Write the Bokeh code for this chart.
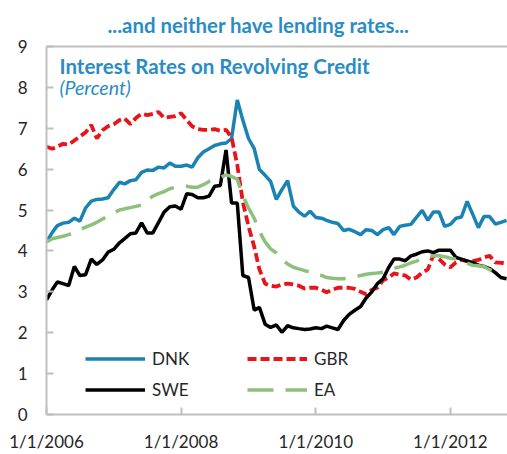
import pandas as pd
from bokeh.plotting import figure
from bokeh.models import (Legend, LegendItem, Label, FixedTicker, DatetimeTickFormatter,
                          LinearAxis, Range1d, Title)
from bokeh.embed import file_html
from bokeh.resources import INLINE

# ---- data (monthly, starting Jan 2006) ----
start_month = "2006-01-01"
dnk = [4.22, 4.45, 4.62, 4.68, 4.70, 4.80, 4.73, 5.05, 5.22, 5.26,
       5.27, 5.30, 5.50, 5.68, 5.64, 5.72, 5.74, 5.92, 5.98, 5.97,
       6.05, 6.03, 6.15, 6.07, 6.07, 6.10, 6.05, 6.28, 6.42, 6.50,
       6.58, 6.62, 6.64, 6.75, 7.69, 7.20, 6.75, 6.50, 5.99, 5.85,
       5.70, 5.26, 5.50, 5.72, 5.10, 4.95, 4.85, 4.97, 4.82, 4.80,
       4.75, 4.70, 4.67, 4.50, 4.53, 4.47, 4.40, 4.52, 4.50, 4.40,
       4.52, 4.57, 4.40, 4.60, 4.63, 4.65, 4.82, 4.99, 4.75, 4.95,
       4.95, 4.60, 4.65, 4.80, 4.83, 5.21, 4.90, 4.57, 4.84, 4.84,
       4.66, 4.70, 4.75]
gbr = [6.55, 6.50, 6.55, 6.62, 6.60, 6.70, 6.80, 6.90, 7.08, 6.75,
       6.95, 7.05, 7.10, 7.20, 7.24, 7.10, 7.25, 7.36, 7.32, 7.35,
       7.40, 7.25, 7.28, 7.30, 7.37, 7.20, 7.05, 6.98, 6.96, 6.96,
       6.98, 6.94, 6.96, 6.78, 6.10, 5.20, 4.60, 4.10, 3.55, 3.20,
       3.15, 3.13, 3.18, 3.20, 3.18, 3.15, 3.08, 3.10, 3.10, 3.05,
       2.99, 3.05, 3.10, 3.10, 3.10, 3.07, 3.00, 2.94, 3.05, 3.10,
       3.28, 3.35, 3.45, 3.42, 3.40, 3.30, 3.35, 3.47, 3.55, 3.90,
       3.80, 3.67, 3.60, 3.72, 3.78, 3.75, 3.75, 3.78, 3.84, 3.88,
       3.72, 3.71, 3.70]
swe = [2.80, 3.05, 3.24, 3.20, 3.15, 3.62, 3.40, 3.42, 3.80, 3.67,
       3.78, 3.97, 4.04, 4.20, 4.30, 4.42, 4.44, 4.69, 4.44, 4.44,
       4.70, 4.95, 5.08, 5.10, 5.02, 5.40, 5.38, 5.30, 5.30, 5.34,
       5.58, 5.60, 6.47, 5.17, 5.17, 3.40, 3.35, 2.55, 2.62, 2.21,
       2.13, 2.19, 2.01, 2.17, 2.12, 2.10, 2.08, 2.09, 2.12, 2.10,
       2.16, 2.12, 2.08, 2.30, 2.45, 2.55, 2.64, 2.85, 3.00, 3.20,
       3.32, 3.60, 3.80, 3.80, 3.76, 3.88, 3.92, 3.98, 4.00, 3.96,
       4.02, 4.02, 4.02, 3.84, 3.80, 3.75, 3.72, 3.65, 3.62, 3.57,
       3.47, 3.35, 3.32]
ea = [4.22, 4.30, 4.33, 4.36, 4.40, 4.45, 4.53, 4.58, 4.64, 4.70,
      4.78, 4.85, 4.93, 5.00, 5.03, 5.06, 5.09, 5.12, 5.25, 5.34,
      5.40, 5.45, 5.52, 5.56, 5.57, 5.58, 5.56, 5.56, 5.62, 5.70,
      5.75, 5.80, 5.86, 5.82, 5.75, 5.35, 5.05, 4.80, 4.48, 4.22,
      4.05, 3.95, 3.80, 3.68, 3.60, 3.56, 3.52, 3.48, 3.43, 3.40,
      3.35, 3.33, 3.32, 3.32, 3.34, 3.37, 3.40, 3.43, 3.45, 3.46,
      3.48, 3.52, 3.57, 3.61, 3.65, 3.71, 3.75, 3.80, 3.86, 3.88,
      3.88, 3.86, 3.82, 3.80, 3.73, 3.70, 3.65, 3.64, 3.62, 3.54,
      3.50]
series_names = ["DNK", "GBR", "SWE", "EA"]
x_tick_dates = ["2006-01-01", "2008-01-01", "2010-01-01", "2012-01-01"]
y_ticks = [0, 1, 2, 3, 4, 5, 6, 7, 8, 9]
title_text = "...and neither have lending rates..."
subtitle_text = "Interest Rates on Revolving Credit"
unit_text = "(Percent)"

FONT = "Lato"
BLUE_TXT = "#2A8CC4"
AXIS_GRAY = "#BFBFBF"
TXT = "#262626"

dates_all = pd.date_range(start_month, periods=len(dnk), freq="MS")

p = figure(width=507, height=454, output_backend="svg", toolbar_location=None,
           x_axis_type="datetime",
           x_range=Range1d(pd.Timestamp("2006-01-01"), pd.Timestamp("2012-11-06")),
           y_range=Range1d(0, 9),
           min_border_left=46, min_border_right=0, min_border_top=46, min_border_bottom=38)
p.outline_line_color = None
p.grid.visible = False
p.background_fill_color = "white"
p.border_fill_color = "white"

p.title = Title(text=title_text, align="left", offset=61, text_font=FONT,
                text_font_size="20.4px", text_font_style="bold", text_color=BLUE_TXT,
                standoff=19)

r_dnk = p.line(dates_all[:len(dnk)], dnk, line_color="#1A83B3", line_width=3.5)
r_gbr = p.line(dates_all[:len(gbr)], gbr, line_color="#E8141B", line_width=3.8, line_dash="9 4")
r_swe = p.line(dates_all[:len(swe)], swe, line_color="black", line_width=3.5)
r_ea = p.line(dates_all[:len(ea)], ea, line_color="#8DC07C", line_width=3.5, line_dash="26 12")

# axes
xa = p.xaxis[0]
xa.ticker = FixedTicker(ticks=[pd.Timestamp(d).value / 1e6 for d in x_tick_dates])
fmt = "%-m/%-d/%Y"
xa.formatter = DatetimeTickFormatter(milliseconds=fmt, seconds=fmt, minsec=fmt, minutes=fmt,
                                     hourmin=fmt, hours=fmt, days=fmt, months=fmt, years=fmt)
ya = p.yaxis[0]
ya.ticker = FixedTicker(ticks=y_ticks)
for ax in (xa, ya):
    ax.axis_line_color = AXIS_GRAY
    ax.axis_line_width = 2
    ax.major_tick_line_color = AXIS_GRAY
    ax.major_tick_line_width = 2
    ax.major_tick_in = 7
    ax.major_tick_out = 0
    ax.minor_tick_line_color = None
    ax.major_label_text_font = FONT
    ax.major_label_text_font_size = "17px"
    ax.major_label_text_color = TXT
xa.major_label_standoff = 16
ya.major_label_standoff = 19

top = LinearAxis(ticker=FixedTicker(ticks=[]), axis_line_color=AXIS_GRAY, axis_line_width=2,
                 major_tick_line_color=None, minor_tick_line_color=None,
                 major_tick_in=0, major_tick_out=0)
p.add_layout(top, "above")

# in-plot headings
p.add_layout(Label(x=13, y=349, x_units="screen", y_units="screen", text=subtitle_text,
                   text_font=FONT, text_font_size="20.5px", text_font_style="bold",
                   text_color=BLUE_TXT, text_baseline="middle"))
p.add_layout(Label(x=13, y=327, x_units="screen", y_units="screen", text=unit_text,
                   text_font=FONT, text_font_size="19.5px", text_font_style="italic",
                   text_color=BLUE_TXT, text_baseline="middle"))

legend = Legend(items=[LegendItem(label=series_names[0], renderers=[r_dnk]),
                       LegendItem(label=series_names[2], renderers=[r_swe]),
                       LegendItem(label=series_names[1], renderers=[r_gbr]),
                       LegendItem(label=series_names[3], renderers=[r_ea])],
                ncols=2, location=(39, 9), margin=0, padding=0, spacing=0,
                glyph_width=60, glyph_height=31, label_height=31, label_width=95,
                label_standoff=7, label_text_font=FONT, label_text_font_size="17px",
                label_text_color=TXT, border_line_color=None, background_fill_alpha=0)
p.add_layout(legend, "center")

open("out.html", "w").write(file_html(p, INLINE))
